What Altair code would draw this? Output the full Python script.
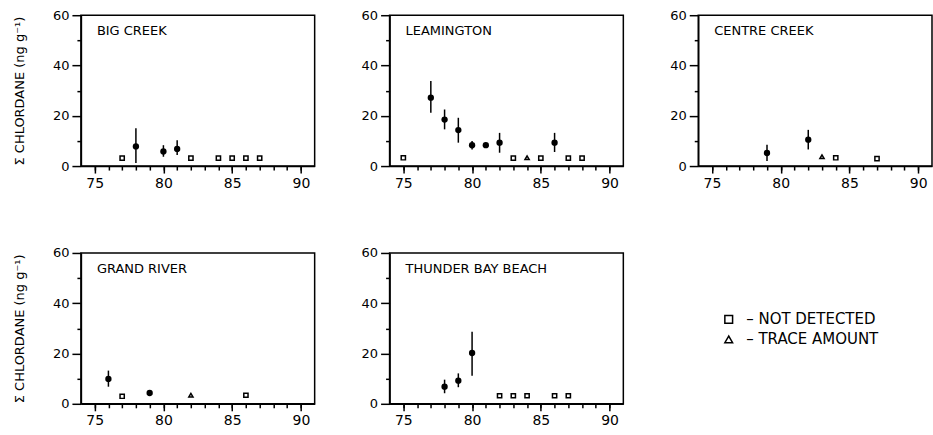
import altair as alt
import pandas as pd

FONT = "DejaVu Sans"

sites = ["BIG CREEK", "LEAMINGTON", "CENTRE CREEK", "GRAND RIVER", "THUNDER BAY BEACH"]

# Detected samples: mean with range bar
det_site = (["BIG CREEK"] * 3 + ["LEAMINGTON"] * 7 + ["CENTRE CREEK"] * 2
            + ["GRAND RIVER"] * 2 + ["THUNDER BAY BEACH"] * 3)
det_year = [78, 80, 81,
            77, 78, 79, 80, 81, 82, 86,
            79, 82,
            76, 79,
            78, 79, 80]
det_mean = [7.8, 5.8, 6.8,
            27.2, 18.5, 14.3, 8.3, 8.3, 9.3, 9.3,
            5.2, 10.5,
            9.9, 4.3,
            6.8, 9.2, 20.2]
det_low = [1.2, 3.7, 4.4,
           21.2, 14.6, 9.3, 6.6, 8.3, 5.3, 5.6,
           2.0, 6.6,
           6.8, 3.5,
           4.2, 6.6, 11.2]
det_high = [15.0, 8.3, 10.3,
            33.8, 22.5, 19.2, 10.0, 8.3, 13.2, 13.2,
            8.5, 14.4,
            13.2, 5.3,
            9.6, 12.1, 28.7]

# Not detected / trace amount samples
oth_site = (["BIG CREEK"] * 6 + ["LEAMINGTON"] * 6 + ["CENTRE CREEK"] * 3
            + ["GRAND RIVER"] * 3 + ["THUNDER BAY BEACH"] * 5)
oth_year = [77, 82, 84, 85, 86, 87,
            75, 83, 84, 85, 87, 88,
            83, 84, 87,
            77, 82, 86,
            82, 83, 84, 86, 87]
oth_value = [3.2, 3.2, 3.2, 3.2, 3.2, 3.2,
             3.3, 3.2, 3.3, 3.2, 3.2, 3.2,
             3.7, 3.3, 3.0,
             3.0, 3.4, 3.4,
             3.2, 3.2, 3.2, 3.2, 3.2]
ND, TR = "NOT DETECTED", "TRACE AMOUNT"
oth_status = [ND, ND, ND, ND, ND, ND,
              ND, ND, TR, ND, ND, ND,
              TR, ND, ND,
              ND, TR, ND,
              ND, ND, ND, ND, ND]

x_major = [75, 80, 85, 90]
x_minor = list(range(75, 91))
y_major = [0, 20, 40, 60]
y_minor = [10, 30, 50]
y_title = "Σ CHLORDANE (ng g⁻¹)"

W, H = 234, 151
XS = alt.Scale(domain=[74, 91], nice=False, zero=False)
YS = alt.Scale(domain=[0, 60], nice=False)


def panel(site, first_col):
    d = pd.DataFrame({
        "year": [y for s, y in zip(det_site, det_year) if s == site],
        "mean": [v for s, v in zip(det_site, det_mean) if s == site],
        "low": [v for s, v in zip(det_site, det_low) if s == site],
        "high": [v for s, v in zip(det_site, det_high) if s == site],
    })
    o = pd.DataFrame({
        "year": [y for s, y in zip(oth_site, oth_year) if s == site],
        "value": [v for s, v in zip(oth_site, oth_value) if s == site],
        "status": [v for s, v in zip(oth_site, oth_status) if s == site],
    })

    minor_x = alt.Axis(values=x_minor, labels=False, ticks=True, tickSize=4,
                       domain=False, orient="bottom", grid=False, title=None,
                       tickWidth=1.5, tickColor="black")
    minor_y = alt.Axis(values=y_minor, labels=False, ticks=True, tickSize=4,
                       domain=False, orient="left", grid=False, title=None,
                       tickWidth=1.5, tickColor="black")
    kx = dict(values=x_major, ticks=True, tickSize=7, labelFontSize=14,
              orient="bottom", grid=False, title=None, tickWidth=1.5,
              tickColor="black", labelFont=FONT, labelPadding=3,
              domainWidth=1.5, domainColor="black", labelColor="black")
    ky = dict(values=y_major, ticks=True, tickSize=9, labelFontSize=13,
              orient="left", grid=False, tickWidth=1.5, tickColor="black",
              labelFont=FONT, labelPadding=3, domainWidth=1.5,
              domainColor="black", labelColor="black")
    if first_col:
        ky.update(title=y_title, titleFontSize=13, titleFont=FONT,
                  titleFontWeight="normal", titlePadding=26, titleColor="black")
    else:
        ky.update(title=None)

    bars = alt.Chart(d).mark_rule(color="black", strokeWidth=1.5).encode(
        x=alt.X("year:Q", scale=XS, axis=minor_x),
        y=alt.Y("low:Q", scale=YS, axis=minor_y),
        y2="high:Q",
    )
    dots = alt.Chart(d).mark_circle(color="black", size=40, opacity=1).encode(
        x=alt.X("year:Q", scale=XS, axis=alt.Axis(**kx)),
        y=alt.Y("mean:Q", scale=YS, axis=alt.Axis(**ky)),
    )
    lg = alt.Legend(orient="none", legendX=641, legendY=297,
                    labelExpr="'–   ' + datum.label",
                    labelFontSize=15, labelFont=FONT, labelColor="black",
                    symbolSize=60, symbolStrokeWidth=1.5,
                    symbolStrokeColor="black", symbolType="square",
                    rowPadding=4, labelOffset=10)
    others = alt.Chart(o).mark_point(color="black", filled=False, size=18,
                                     strokeWidth=1.5, opacity=1).encode(
        x=alt.X("year:Q", scale=XS, axis=None),
        y=alt.Y("value:Q", scale=YS, axis=None),
        shape=alt.Shape("status:N", title=None,
                        scale=alt.Scale(domain=[ND, TR],
                                        range=["square", "triangle-up"]),
                        legend=lg),
    )
    label = alt.Chart(pd.DataFrame({"site": [site]})).mark_text(
        align="left", baseline="middle", fontSize=13, font=FONT, color="black"
    ).encode(x=alt.value(16), y=alt.value(16), text="site:N")

    return alt.layer(bars, dots, others, label).resolve_axis(
        x="independent", y="independent"
    ).properties(width=W, height=H)


charts = [panel(s, i % 3 == 0) for i, s in enumerate(sites)]

chart = alt.concat(*charts, columns=3, spacing={"row": 87, "column": 75},
                   bounds="flush").properties(
    padding={"left": 12, "top": 8, "right": 0, "bottom": 0},
    background="white",
).configure_view(stroke="black", strokeWidth=1.5).configure_axis(
    domainColor="black", tickColor="black", labelColor="black", titleColor="black"
)

chart.save("out.html", embed_options={"renderer": "svg", "actions": False})
